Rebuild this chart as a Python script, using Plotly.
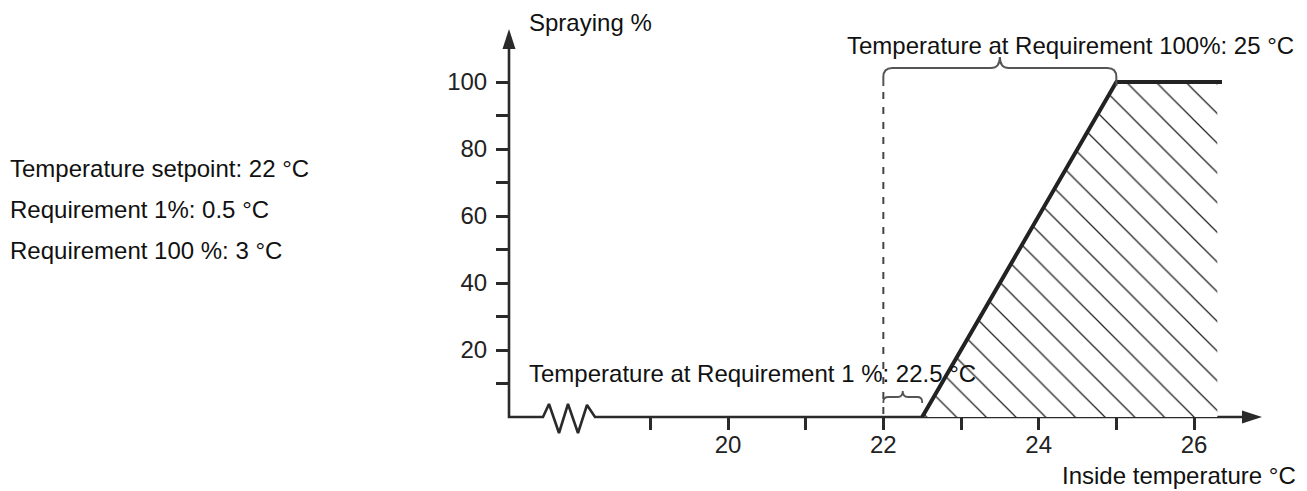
import plotly.graph_objects as go

# ---- data -------------------------------------------------------------
setpoint = 22.0          # °C
req1_offset = 0.5        # °C above setpoint where spraying starts
req100_offset = 3.0      # °C above setpoint where spraying reaches 100 %

temp_start = setpoint + req1_offset      # 22.5
temp_full = setpoint + req100_offset     # 25.0

curve_temp = [temp_start, temp_full, 26.36]
curve_spray = [0, 100, 100]

zone_temp = [temp_start, temp_full, 26.3, 26.3]
zone_spray = [0, 100, 100, 0]

x_major = [20, 22, 24, 26]
x_minor = [19, 21, 23, 25]
y_major = [20, 40, 60, 80, 100]
y_minor = [10, 30, 50, 70, 90]

info_lines = [
    "Temperature setpoint: 22 °C",
    "Requirement 1%: 0.5 °C",
    "Requirement 100 %: 3 °C",
]

# ---- canvas geometry --------------------------------------------------
W, H = 1307, 491
PX_X = 77.67      # pixels per °C
PX_Y = 3.35       # pixels per %
X20_PX = 728      # pixel column of 20 °C
Y0_PX = 417       # pixel row of 0 %


def x_at(px):
    return 20 + (px - X20_PX) / PX_X


def y_at(py):
    return (Y0_PX - py) / PX_Y


def dx(px):
    return px / PX_X


def dy(py):
    return py / PX_Y


AXIS_X_PX = 509
X_TIP_PX = 1262
Y_TIP_PX = 29
AXIS_COLOR = "#2a2a2a"
TEXT_COLOR = "#111111"
FONT = "Liberation Sans, Arial, sans-serif"

x_origin = x_at(AXIS_X_PX)

fig = go.Figure()

# ---- axis lines with broken x axis -----------------------------------
zig_px = [543, 549, 559, 568, 578, 587, 595]
zig_py = [417, 404, 433, 404, 433, 405, 417]
axis_x = [x_origin, x_origin] + [x_at(p) for p in zig_px] + [x_at(X_TIP_PX - 10)]
axis_y = [y_at(Y_TIP_PX + 10), 0] + [y_at(p) for p in zig_py] + [0]
fig.add_trace(go.Scatter(
    x=axis_x, y=axis_y, mode="lines",
    line=dict(color=AXIS_COLOR, width=2.6),
    hoverinfo="skip", showlegend=False, xaxis="x", yaxis="y",
))
fig.add_trace(go.Scatter(
    x=[x_origin, x_at(X_TIP_PX)], y=[y_at(Y_TIP_PX), 0], mode="markers",
    marker=dict(symbol="arrow", angle=[0, 90], size=21, color=AXIS_COLOR,
                line=dict(width=0)),
    hoverinfo="skip", showlegend=False, xaxis="x", yaxis="y",
))

# ---- setpoint marker (dashed) ----------------------------------------
fig.add_trace(go.Scatter(
    x=[setpoint, setpoint], y=[y_at(92), 0], mode="lines",
    line=dict(color="#444444", width=2, dash="7px,8px"),
    hoverinfo="skip", showlegend=False, xaxis="x", yaxis="y",
))

# ---- spraying zone and response curve --------------------------------
fig.add_trace(go.Scatter(
    x=zone_temp, y=zone_spray, mode="lines", fill="toself",
    fillcolor="white", line=dict(width=0),
    fillpattern=dict(shape="\\", size=21, solidity=0.06, fgopacity=1,
                     fgcolor="#222222", bgcolor="white"),
    hoverinfo="skip", showlegend=False, xaxis="x2", yaxis="y2",
))
fig.add_trace(go.Scatter(
    x=curve_temp, y=curve_spray, mode="lines",
    line=dict(color="#222222", width=4),
    hoverinfo="skip", showlegend=False, xaxis="x2", yaxis="y2",
))


# ---- curly braces -----------------------------------------------------
def brace_path(x0, x1, y_end, y_mid, y_tip, r_px, r_tip_px):
    xm = (x0 + x1) / 2
    r = dx(r_px)
    rv = dy(r_px)
    rt = dx(r_tip_px)
    return (
        f"M {x0},{y_end} L {x0},{y_mid - rv} "
        f"Q {x0},{y_mid} {x0 + r},{y_mid} "
        f"L {xm - rt},{y_mid} "
        f"Q {xm},{y_mid} {xm},{y_tip} "
        f"Q {xm},{y_mid} {xm + rt},{y_mid} "
        f"L {x1 - r},{y_mid} "
        f"Q {x1},{y_mid} {x1},{y_mid - rv} "
        f"L {x1},{y_end}"
    )


shapes = [
    dict(type="path", xref="x", yref="y", layer="above",
         path=brace_path(setpoint, temp_full, y_at(86), y_at(68), y_at(57), 9, 9),
         line=dict(color="#555555", width=2)),
    dict(type="path", xref="x", yref="y", layer="above",
         path=brace_path(setpoint, temp_start, y_at(403), y_at(397), y_at(391), 5, 5),
         line=dict(color="#555555", width=1.8)),
]


# ---- text -------------------------------------------------------------
def label(text, px, py, anchor="left"):
    return dict(text=text, x=px / W, y=1 - py / H, xref="paper", yref="paper",
                xanchor=anchor, yanchor="middle", showarrow=False,
                font=dict(family=FONT, size=24, color=TEXT_COLOR))


annotations = [
    label("Spraying %", 527, 22),
    label(f"Temperature at Requirement 100%: {temp_full:g} °C", 845, 45),
    label(f"Temperature at Requirement 1 %: {temp_start:g} °C", 527, 373),
    label("Inside temperature °C", 1060, 475),
]
for line_text, py in zip(info_lines, [168, 209, 250]):
    annotations.append(label(line_text, 8, py))

tick_style = dict(ticks="outside", ticklen=12, tickwidth=2.5, tickcolor=AXIS_COLOR)

fig.update_layout(
    width=W, height=H,
    margin=dict(l=0, r=0, t=0, b=0),
    paper_bgcolor="white", plot_bgcolor="rgba(0,0,0,0)",
    showlegend=False,
    shapes=shapes,
    annotations=annotations,
    # full-canvas frame for decorations
    xaxis=dict(domain=[0, 1], range=[x_at(0), x_at(W)], visible=False, anchor="y"),
    yaxis=dict(domain=[0, 1], range=[y_at(H), y_at(0)], visible=False, anchor="x"),
    # scaled axes carrying the ticks
    xaxis2=dict(
        domain=[AXIS_X_PX / W, X_TIP_PX / W],
        range=[x_origin, x_at(X_TIP_PX)], anchor="y2",
        tickvals=x_major, ticktext=[str(v) for v in x_major],
        showline=False, showgrid=False, zeroline=False,
        ticklabelstandoff=-6,
        tickfont=dict(family=FONT, size=24, color="#222222"),
        minor=dict(tickvals=x_minor, ticklen=12, tickwidth=2.5,
                   tickcolor=AXIS_COLOR, ticks="outside", showgrid=False),
        **tick_style,
    ),
    yaxis2=dict(
        domain=[(H - Y0_PX) / H, (H - Y_TIP_PX) / H],
        range=[0, y_at(Y_TIP_PX)], anchor="x2",
        tickvals=y_major, ticktext=[str(v) for v in y_major],
        showline=False, showgrid=False, zeroline=False,
        ticklabelstandoff=4,
        tickfont=dict(family=FONT, size=24, color="#222222"),
        minor=dict(tickvals=y_minor, ticklen=12, tickwidth=2.5,
                   tickcolor=AXIS_COLOR, ticks="outside", showgrid=False),
        **tick_style,
    ),
)

fig.write_html("out.html")
